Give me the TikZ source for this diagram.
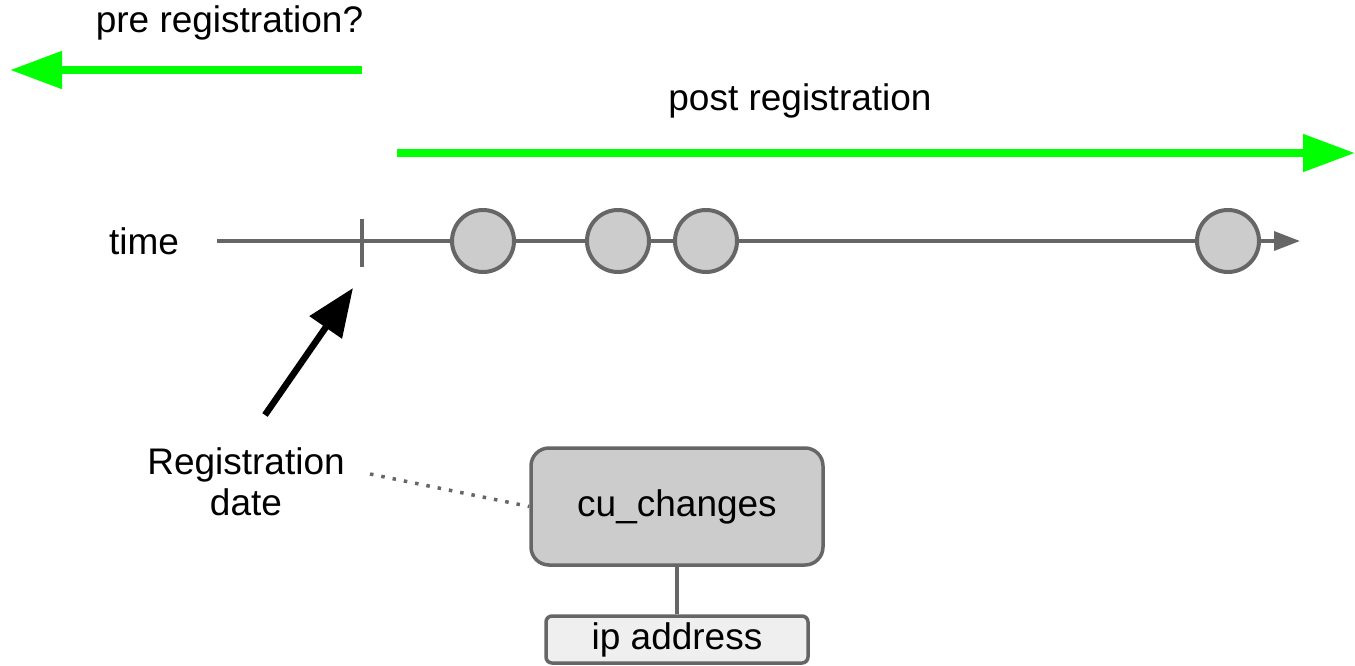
\documentclass[tikz,border=0pt]{standalone}
\usepackage{fontspec}
\setmainfont{Liberation Sans}
\usetikzlibrary{arrows.meta}
\definecolor{grn}{HTML}{00FF00}
\definecolor{gline}{HTML}{666666}
\definecolor{gfill}{HTML}{CCCCCC}
\definecolor{lfill}{HTML}{EFEFEF}
\begin{document}
\begin{tikzpicture}[x=1pt,y=-1pt,
  every node/.style={font=\fontsize{37}{44}\selectfont},
  lbl/.style={inner sep=0pt, align=center},
  greenarrow/.style={draw=grn, line width=8pt, -{Triangle[length=52pt,width=36pt]}},
  timeline/.style={draw=gline, line width=3.5pt},
  event/.style={circle, draw=gline, fill=gfill, line width=4pt, minimum size=62pt, inner sep=0pt},
  tablebox/.style={rectangle, rounded corners=18pt, draw=gline, fill=gfill, line width=3.5pt, minimum width=292pt, minimum height=117pt, inner sep=0pt},
  fieldbox/.style={rectangle, rounded corners=6pt, draw=gline, fill=lfill, line width=3.5pt, minimum width=262pt, minimum height=47pt, inner sep=0pt}
]
\useasboundingbox (0,0) rectangle (1355,666);

% labels
\node[lbl] (pre) at (229.5,23) {pre registration?};
\node[lbl] (post) at (800,101) {post registration};
\node[lbl] (time) at (144,241) {time};
\node[lbl] (regdate) at (246,482) {Registration\\[-3pt]date};

% green arrows
\coordinate (preS) at (362,70);
\coordinate (preE) at (10,70);
\draw[greenarrow] (preS) -- (preE);
\coordinate (postS) at (397,153);
\coordinate (postE) at (1355,153);
\draw[greenarrow] (postS) -- (postE);

% time line
\coordinate (tS) at (217,241);
\coordinate (tick) at (362,241);
\coordinate (tE) at (1300,241);
\node[event] (e1) at (483,241) {};
\node[event] (e2) at (618,241) {};
\node[event] (e3) at (706,241) {};
\node[event] (e4) at (1228,241) {};
\draw[timeline] (tS) -- (tick) -- (e1);
\draw[timeline] (e1) -- (e2);
\draw[timeline] (e2) -- (e3);
\draw[timeline] (e3) -- (e4);
\draw[timeline, -{Triangle[length=26pt,width=19pt]}] (e4) -- (tE);
\coordinate (tickT) at (362,219);
\coordinate (tickB) at (362,267);
\draw[timeline] (tickT) -- (tickB);

% registration arrow
\coordinate (rS) at (265,415);
\coordinate (rE) at (353,288);
\draw[line width=6.5pt, -{Triangle[length=48pt,width=38pt]}] (rS) -- (rE);

% boxes
\node[tablebox] (cu) at (677,506.5) {cu\_changes};
\node[fieldbox] (ip) at (677,639.5) {ip address};
\draw[timeline] (cu) -- (ip);

% dotted connector
\coordinate (dS) at (370,474);
\draw[draw=gline, line width=3.5pt, dash pattern=on 3.5pt off 8pt] (dS) -- (cu.west);
\end{tikzpicture}
\end{document}
